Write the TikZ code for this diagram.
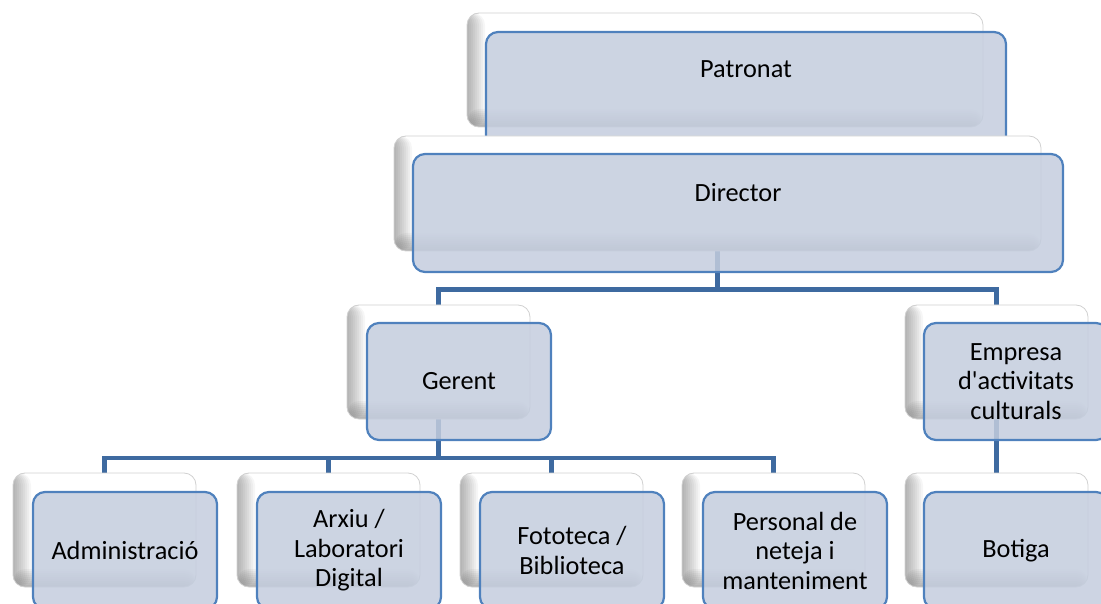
\documentclass[tikz,border=0pt]{standalone}
\usepackage{fontspec}
\setmainfont{Carlito}
\usetikzlibrary{backgrounds}
\definecolor{frontfill}{RGB}{196,205,222}
\definecolor{frontline}{RGB}{79,129,189}
\definecolor{conncol}{RGB}{62,106,160}
\tikzset{
  backbox/.style={rectangle, rounded corners=12pt, inner sep=0pt,
    minimum width=183pt, minimum height=114pt, fill=white,
    draw=black!18, line width=0.8pt,
    path picture={
      \foreach \i in {1,...,9} {
        \fill[black, fill opacity=0.035] (path picture bounding box.south west)
          rectangle ([xshift=2*\i pt]path picture bounding box.north west);
        \fill[black, fill opacity=0.035] (path picture bounding box.south west)
          rectangle ([yshift=2*\i pt]path picture bounding box.south east);
      }
    }},
  frontbox/.style={rectangle, rounded corners=12pt, inner sep=0pt,
    minimum width=184pt, minimum height=117pt, fill=frontfill,
    fill opacity=0.85, text opacity=1, draw=frontline, line width=2.2pt,
    align=center, font=\fontsize{26.3pt}{29.5pt}\selectfont},
  labeltext/.style={inner sep=0pt, font=\fontsize{26.3pt}{29.5pt}\selectfont},
  connector/.style={draw=conncol, line width=4.6pt, line join=miter}
}
\begin{document}
\begin{tikzpicture}[x=1pt,y=1pt]
\useasboundingbox (0,0) rectangle (1101,-604);
\clip (0,0) rectangle (1101,-604);
% Patronat
\node[backbox, minimum width=516pt, minimum height=114pt] (sPat) at (725,-70) {};
\node[frontbox, minimum width=520pt, minimum height=118pt] (fPat) at (746,-91) {};
\node[labeltext] (tPat) at (746,-69) {Patronat};
% Director
\node[backbox, minimum width=647pt, minimum height=115pt] (sDir) at (717.5,-193.5) {};
\node[frontbox, minimum width=650pt, minimum height=118pt] (fDir) at (738,-213) {};
\node[labeltext] (tDir) at (738,-193) {Director};
% middle row
\node[backbox] (sGer) at (438.5,-362) {};
\node[frontbox] (fGer) at (459,-381.5) {Gerent};
\node[backbox] (sEmp) at (996.5,-362) {};
\node[frontbox] (fEmp) at (1016,-381.5) {Empresa\\d\textquotesingle activitats\\culturals};
% bottom row
\node[backbox] (sAdm) at (104.5,-530) {};
\node[frontbox] (fAdm) at (125,-550.5) {Administració};
\node[backbox] (sArx) at (328.5,-530) {};
\node[frontbox] (fArx) at (349,-550.5) {Arxiu /\\Laboratori\\Digital};
\node[backbox] (sFot) at (551.5,-530) {};
\node[frontbox] (fFot) at (572,-550.5) {Fototeca /\\Biblioteca};
\node[backbox] (sPer) at (773.5,-530) {};
\node[frontbox] (fPer) at (795,-550.5) {Personal de\\neteja i\\manteniment};
\node[backbox] (sBot) at (996.5,-530) {};
\node[frontbox] (fBot) at (1016,-550.5) {Botiga};
% connectors
\begin{pgfonlayer}{background}
\draw[connector] (sDir.south) -- ++(0,-38) -| (sGer.north);
\draw[connector] (sDir.south) -- ++(0,-38) -| (sEmp.north);
\draw[connector] (sGer.south) -- ++(0,-38.5) -| (sAdm.north);
\draw[connector] (sGer.south) -- ++(0,-38.5) -| (sArx.north);
\draw[connector] (sGer.south) -- ++(0,-38.5) -| (sFot.north);
\draw[connector] (sGer.south) -- ++(0,-38.5) -| (sPer.north);
\draw[connector] (sEmp.south) -- (sBot.north);
\end{pgfonlayer}
\end{tikzpicture}
\end{document}
